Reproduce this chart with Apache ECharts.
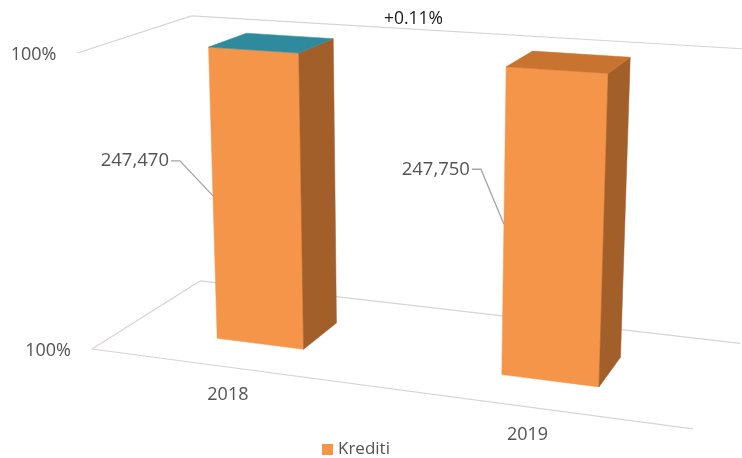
<!DOCTYPE html>
<html>
<head>
<meta charset="utf-8">
<script src="https://cdn.jsdelivr.net/npm/echarts@6/dist/echarts.min.js"></script>
<style>
  html, body { margin: 0; padding: 0; background: #fff; }
  #chart { width: 742px; height: 458px; }
</style>
</head>
<body>
<div id="chart"></div>
<script>
// ---- data ----
const categories = ['2018', '2019'];
const seriesName = 'Krediti';
const krediti = [247470, 247750];
const yTicks = [0.996, 1.0];          // value axis range of the 100% stacked view

// ---- styles ----
const FONT = '"Open Sans", Lato, sans-serif';
const TEXT_GRAY = '#535353';
const LINE_GRAY = '#d9d3d3';
const FRONT = '#f4954a';
const SIDE = '#a25f29';
const TOP_FACES = ['#2f8a9d', '#c8732f'];
const BAR_RATIO = 0.316;               // bar width relative to category band
const BAR_DEPTH = [0.30, 0.66];        // front / back of the bars inside the floor depth
const LABEL_ELBOW = [[-33, -35], [-23, -55]];

// ---- 3D view: three-point perspective of the unit box (X across, Y up, Z into the page) ----
const CAM = {
  origin: [92, 349],
  vx: [-4533, -266], wx: -0.115,
  vy: [410, 6840],   wy: -0.04361,
  vz: [1079, -273],  wz: 0.1229
};
function project(X, Y, Z) {
  const d = 1 + CAM.wx * X + CAM.wy * Y + CAM.wz * Z;
  const px = CAM.origin[0] + CAM.wx * X * CAM.vx[0] + CAM.wy * Y * CAM.vy[0] + CAM.wz * Z * CAM.vz[0];
  const py = CAM.origin[1] + CAM.wx * X * CAM.vx[1] + CAM.wy * Y * CAM.vy[1] + CAM.wz * Z * CAM.vz[1];
  return [px / d, py / d];
}
function toUnit(cs) {
  return {
    u: px => (px - cs.x) / cs.width,
    v: py => (cs.y + cs.height - py) / cs.height
  };
}

// shares of the 100% stacked column (single series here)
const totals = krediti.map(v => v);
const shares = krediti.map((v, i) => v / totals[i]);
const barData = categories.map((c, i) => [i, shares[i], krediti[i]]);

const change = (krediti[1] - krediti[0]) / krediti[0] * 100;
const changeText = (change >= 0 ? '+' : '') + change.toFixed(2) + '%';

const fmtPct = v => Math.round(v * 100) + '%';
const fmtNum = v => v.toLocaleString('en-US');

function renderFrame(params, api) {
  const cs = params.coordSys;
  const t = toUnit(cs);
  const children = [];
  const line = (a, b) => children.push({
    type: 'line',
    shape: { x1: a[0], y1: a[1], x2: b[0], y2: b[1] },
    style: { stroke: LINE_GRAY, lineWidth: 1.2 }
  });
  // gridlines on the side and back walls, one per tick
  yTicks.forEach(tv => {
    const Y = t.v(api.coord([0, tv])[1]);
    line(project(0, Y, 0), project(0, Y, 1));
    line(project(0, Y, 1), project(1, Y, 1));
    const p = project(0, Y, 0);
    children.push({
      type: 'text',
      style: {
        text: fmtPct(tv), x: p[0] - 21, y: p[1] + 2,
        align: 'right', verticalAlign: 'middle',
        fill: TEXT_GRAY, font: '18px ' + FONT
      }
    });
  });
  // front edge of the floor
  const Y0 = t.v(api.coord([0, yTicks[0]])[1]);
  line(project(0, Y0, 0), project(1, Y0, 0));
  // category labels under the floor
  categories.forEach((c, i) => {
    const X = t.u(api.coord([i, yTicks[0]])[0]);
    const p = project(X, Y0, 0);
    children.push({
      type: 'text',
      style: {
        text: c, x: p[0] - 1, y: p[1] + 28,
        align: 'center', verticalAlign: 'middle',
        fill: TEXT_GRAY, font: '18px ' + FONT
      }
    });
  });
  return { type: 'group', children };
}

function renderBar(params, api) {
  const cs = params.coordSys;
  const t = toUnit(cs);
  const i = api.value(0);
  const top = api.coord([i, api.value(1)]);
  const base = api.coord([i, yTicks[0]]);
  const bw = api.size([1, 0])[0] * BAR_RATIO;
  const x0 = t.u(top[0] - bw / 2), x1 = t.u(top[0] + bw / 2);
  const y0 = t.v(base[1]), y1 = t.v(top[1]);
  const z0 = BAR_DEPTH[0], z1 = BAR_DEPTH[1];
  const poly = (pts, fill) => ({
    type: 'polygon',
    shape: { points: pts },
    style: { fill, stroke: fill, lineWidth: 0.5 }
  });
  const children = [
    poly([project(x0, y0, z0), project(x1, y0, z0), project(x1, y1, z0), project(x0, y1, z0)], FRONT),
    poly([project(x1, y0, z0), project(x1, y0, z1), project(x1, y1, z1), project(x1, y1, z0)], SIDE),
    poly([project(x0, y1, z0), project(x1, y1, z0), project(x1, y1, z1), project(x0, y1, z1)], TOP_FACES[i])
  ];
  // data label with leader line to the middle of the front-left edge
  const target = project(x0, (y0 + y1) / 2, z0);
  const elbow = [target[0] + LABEL_ELBOW[i][0], target[1] + LABEL_ELBOW[i][1]];
  const start = [elbow[0] - 9, elbow[1]];
  children.push({
    type: 'polyline',
    shape: { points: [start, elbow, target] },
    style: { stroke: '#a8a3a3', lineWidth: 1.3, fill: null }
  });
  children.push({
    type: 'text',
    style: {
      text: fmtNum(api.value(2)), x: start[0] - 2, y: start[1],
      align: 'right', verticalAlign: 'middle',
      fill: TEXT_GRAY, font: '18.5px ' + FONT
    }
  });
  return { type: 'group', children };
}

const chart = echarts.init(document.getElementById('chart'), null, { renderer: 'canvas' });
chart.setOption({
  animation: false,
  backgroundColor: '#fff',
  title: {
    text: changeText,
    left: 379, top: 5,
    textStyle: { fontSize: 17.5, fontWeight: 'normal', color: '#1a1a1a', fontFamily: FONT }
  },
  legend: {
    data: [seriesName],
    left: 322, top: 441, padding: 0,
    icon: 'rect', itemWidth: 11, itemHeight: 11, itemGap: 10,
    textStyle: { fontSize: 17, color: TEXT_GRAY, fontFamily: FONT }
  },
  grid: { left: 0, right: 0, top: 0, bottom: 0 },
  xAxis: { type: 'category', data: categories, show: false },
  yAxis: { type: 'value', min: yTicks[0], max: yTicks[yTicks.length - 1], interval: 0.004, show: false },
  series: [
    {
      name: 'frame', type: 'custom', z: 1, clip: false, silent: true,
      data: [[0]], renderItem: renderFrame
    },
    {
      name: seriesName, type: 'custom', z: 2, clip: false,
      itemStyle: { color: FRONT },
      encode: { x: 0, y: 1 },
      data: barData, renderItem: renderBar
    }
  ]
});
</script>
</body>
</html>
